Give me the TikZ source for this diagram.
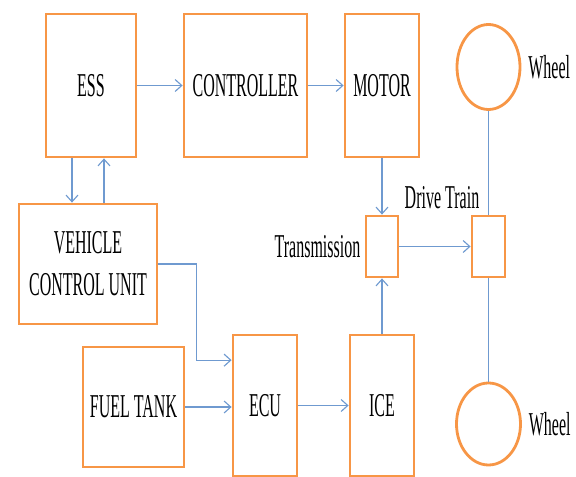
\documentclass[tikz,border=0pt]{standalone}
\usepackage{fontspec}
\setmainfont{Liberation Serif}[FakeStretch=0.48]
\usetikzlibrary{arrows.meta,positioning,shapes.geometric}

\begin{document}
\begin{tikzpicture}[x=0.75pt,y=-0.75pt,font=\rmfamily\fontsize{25}{31.5}\selectfont,
  blk/.style={draw=borange,line width=2.1pt,fill=white,inner sep=0pt,align=center},
  wheelshape/.style={draw=borange,line width=2.1pt,ellipse,inner sep=0pt},
  flow/.style={draw=lblue,line width=0.85pt,-{Straight Barb[length=5pt,width=9pt]}},
  link/.style={draw=lblue,line width=0.85pt},
  lbl/.style={inner sep=3pt}]
  \definecolor{borange}{HTML}{F79646}
  \definecolor{lblue}{HTML}{6F9AD0}
  \path[use as bounding box] (0,0) rectangle (576,477);
  % top row
  \foreach \name/\cx/\w/\txt in {ess/91/90/ESS, ctrl/245.5/123/CONTROLLER, motor/382/74/MOTOR}{
    \node[blk,minimum width=\w*0.75pt,minimum height=143*0.75pt] (\name) at (\cx,85.5) {\txt};
  }
  % engine side
  \node[blk,minimum width=138*0.75pt,minimum height=120*0.75pt] (vcu) at (88,264)
    {VEHICLE\\CONTROL UNIT};
  \node[blk,minimum width=101*0.75pt,minimum height=120*0.75pt] (fuel) at (133.5,407) {FUEL TANK};
  \node[blk,minimum width=64*0.75pt,minimum height=141*0.75pt] (ecu) at (265,405.5) {ECU};
  \node[blk,minimum width=64*0.75pt,minimum height=141*0.75pt] (ice) at (382,405.5) {ICE};
  % transmission and drive train
  \node[blk,minimum width=32*0.75pt,minimum height=61*0.75pt] (trans) at (382,246.5) {};
  \node[blk,minimum width=33*0.75pt,minimum height=61*0.75pt] (drive) at (488.5,246.5) {};
  \node[lbl,left=0pt of trans] (translbl) {Transmission};
  \node[lbl] (drivelbl) at (442,198) {Drive Train};
  % wheels
  \node[wheelshape,minimum width=63*0.75pt,minimum height=85*0.75pt] (wheeltop) at (488.5,67) {};
  \node[wheelshape,minimum width=64*0.75pt,minimum height=82*0.75pt] (wheelbot) at (488.5,424) {};
  \node[lbl,right=2pt of wheeltop] (wheeltoplbl) {Wheel};
  \node[lbl,right=2pt of wheelbot] (wheelbotlbl) {Wheel};
  % connectors
  \draw[flow] (ess) -- (ctrl);
  \draw[flow] (ctrl) -- (motor);
  \draw[flow] ([xshift=-14.25pt]ess.south) -- ([xshift=-14.25pt]ess.south |- vcu.north);
  \draw[flow] ([xshift=9.75pt]ess.south |- vcu.north) -- ([xshift=9.75pt]ess.south);
  \draw[flow] (vcu.east) -- ++(38,0) |- ([yshift=34pt]ecu.west);
  \draw[flow] (fuel.east) -- (fuel.east -| ecu.west);
  \draw[flow] (ecu.east) -- (ice.west);
  \draw[flow] (ice.north) -- (trans.south);
  \draw[flow] (motor.south) -- (trans.north);
  \draw[flow] (trans.east) -- (drive.west);
  \draw[link] (wheeltop.south) -- (drive.north);
  \draw[link] (drive.south) -- (wheelbot.north);
\end{tikzpicture}
\end{document}
